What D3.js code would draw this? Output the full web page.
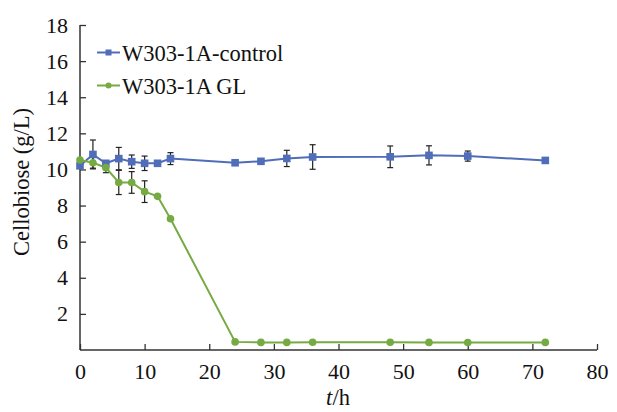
<!DOCTYPE html>
<html><head><meta charset="utf-8">
<script src="https://cdn.jsdelivr.net/npm/d3@7"></script>
<style>body{margin:0;background:#fff}svg{display:block}
svg text{font-family:"Liberation Serif","Times New Roman",Times,serif !important;}</style>
</head><body>
<svg id="c" width="617" height="412"></svg>
<script>
const times = [0,2,4,6,8,10,12,14,24,28,32,36,48,54,60,72];
const controlValues = [10.2,10.83,10.34,10.6,10.43,10.34,10.34,10.6,10.37,10.45,10.61,10.69,10.7,10.78,10.74,10.5];
const controlErrors = [0,0.8,0,0.62,0.37,0.4,0,0.33,0,0,0.45,0.68,0.6,0.53,0.28,0];
const glValues = [10.52,10.37,10.1,9.28,9.28,8.77,8.51,7.27,0.45,0.42,0.42,0.43,0.43,0.42,0.41,0.42];
const glErrors = [0,0.3,0.28,0.67,0.6,0.6,0,0,0,0,0,0,0,0,0,0];
const xTicks = [0,10,20,30,40,50,60,70,80];
const yTicks = [2,4,6,8,10,12,14,16,18];
const seriesNames = ["W303-1A-control","W303-1A GL"];

const svg = d3.select("#c");
const font = "Liberation Serif";
const x = d3.scaleLinear().domain([0,80]).range([80,597]);
const y = d3.scaleLinear().domain([0,18]).range([350,25]);
const blue = "#4f6db8", green = "#76aa42", axisC = "#333";

const xa = svg.append("g").attr("transform","translate(0,350)")
  .call(d3.axisBottom(x).tickValues(xTicks).tickSize(-6).tickPadding(13).tickSizeOuter(0));
const ya = svg.append("g").attr("transform","translate(80,0)")
  .call(d3.axisLeft(y).tickValues(yTicks).tickSize(-6).tickPadding(12).tickSizeOuter(0));
[xa,ya].forEach(a=>{
  a.attr("font-family",font);
  a.select(".domain").attr("stroke",axisC).attr("stroke-width",1.5);
  a.selectAll(".tick line").attr("stroke",axisC).attr("stroke-width",1.3);
  a.selectAll(".tick text").attr("font-size",22).attr("fill","#111");
});
ya.select(".domain").attr("d","M0,350V25");
xa.select(".domain").attr("d","M80,0H597");

const series = [
  {vals:controlValues, errs:controlErrors, color:blue, shape:"square"},
  {vals:glValues, errs:glErrors, color:green, shape:"circle"}
];
const line = d3.line().x(d=>x(d[0])).y(d=>y(d[1]));
series.forEach(s=>{
  const pts = times.map((t,i)=>[t,s.vals[i],s.errs[i]]);
  svg.append("path").datum(pts).attr("d",line).attr("fill","none")
    .attr("stroke",s.color).attr("stroke-width",2);
});
series.forEach(s=>{
  const pts = times.map((t,i)=>[t,s.vals[i],s.errs[i]]).filter(d=>d[2]>0);
  const g = svg.append("g").attr("stroke","#222").attr("stroke-width",1.2);
  pts.forEach(d=>{
    const cx=x(d[0]), y1=y(d[1]+d[2]), y2=y(d[1]-d[2]);
    g.append("line").attr("x1",cx).attr("x2",cx).attr("y1",y1).attr("y2",y2);
    g.append("line").attr("x1",cx-3).attr("x2",cx+3).attr("y1",y1).attr("y2",y1);
    g.append("line").attr("x1",cx-3).attr("x2",cx+3).attr("y1",y2).attr("y2",y2);
  });
});
series.forEach(s=>{
  const pts = times.map((t,i)=>[t,s.vals[i]]);
  if(s.shape==="square"){
    svg.append("g").selectAll("rect").data(pts).join("rect")
      .attr("x",d=>x(d[0])-3.8).attr("y",d=>y(d[1])-3.8).attr("width",7.6).attr("height",7.6)
      .attr("fill",s.color);
  } else {
    svg.append("g").selectAll("circle").data(pts).join("circle")
      .attr("cx",d=>x(d[0])).attr("cy",d=>y(d[1])).attr("r",3.8).attr("fill",s.color);
  }
});
const leg = svg.append("g");
seriesNames.forEach((n,i)=>{
  const ly = 52.5 + i*33;
  const s = series[i];
  leg.append("line").attr("x1",97).attr("x2",120).attr("y1",ly).attr("y2",ly)
    .attr("stroke",s.color).attr("stroke-width",2);
  if(s.shape==="square") leg.append("rect").attr("x",105.5).attr("y",ly-3).attr("width",6).attr("height",6).attr("fill",s.color);
  else leg.append("circle").attr("cx",108.5).attr("cy",ly).attr("r",3).attr("fill",s.color);
  leg.append("text").attr("x",122).attr("y",ly+8).attr("font-family",font).attr("font-size",22.5)
    .attr("fill","#111").text(n);
});
svg.append("text").attr("transform","translate(29,182) rotate(-90)").attr("text-anchor","middle")
  .attr("font-family",font).attr("font-size",22.5).attr("fill","#111").text("Cellobiose (g/L)");
const xt = svg.append("text").attr("x",338).attr("y",405).attr("text-anchor","middle")
  .attr("font-family",font).attr("font-size",22.5).attr("fill","#111");
xt.append("tspan").attr("font-style","italic").text("t");
xt.append("tspan").text("/h");
</script>
</body></html>
